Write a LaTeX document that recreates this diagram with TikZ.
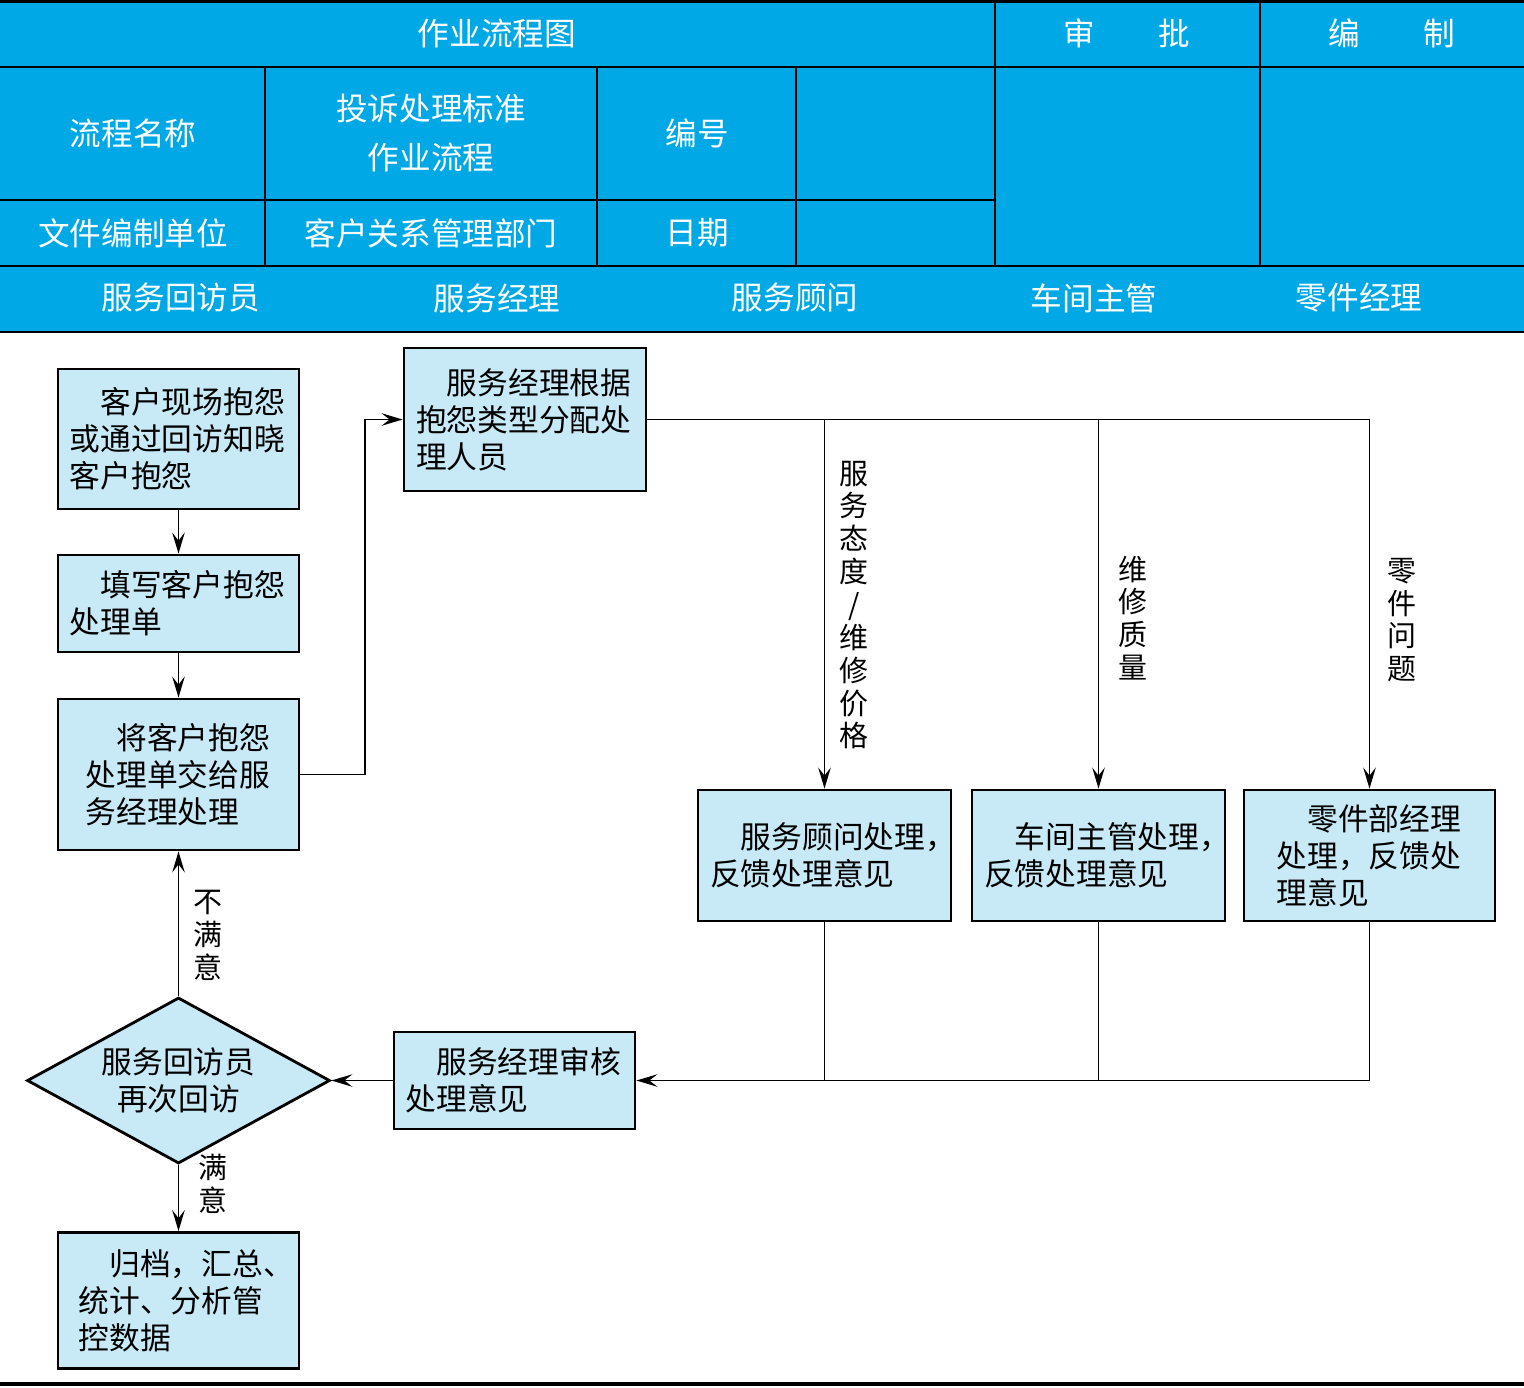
\documentclass[tikz,border=0pt]{standalone}
\usepackage{fontspec}
\setmainfont{Noto Sans CJK SC}
\usetikzlibrary{arrows.meta,shapes.geometric,calc}
\definecolor{headblue}{RGB}{0,168,230}
\definecolor{boxblue}{RGB}{200,234,247}

\begin{document}
\begin{tikzpicture}[x=0.02cm,y=-0.02cm,
  proc/.style={draw,line width=1.6pt,fill=boxblue,align=left,inner sep=0pt,
               text width=4.36cm,minimum width=4.82cm,
               font=\fontsize{17.5pt}{21pt}\selectfont},
  dec/.style={draw,diamond,aspect=1.83,line width=1.6pt,fill=boxblue,align=center,inner sep=0pt,
              minimum width=6.06cm,minimum height=3.32cm,
              font=\fontsize{17.5pt}{21pt}\selectfont},
  hd/.style={text=white,align=center,font=\fontsize{18pt}{28pt}\selectfont},
  vlab/.style={align=center,inner sep=0pt,font=\fontsize{16.5pt}{18.7pt}\selectfont},
  arr/.style={-{Stealth[length=4.2mm,width=2.5mm,inset=1.6mm]},line width=1.1pt},
  tline/.style={line width=0.75pt}]
  \useasboundingbox (0,0) rectangle (1524,1387);

  % header table
  \fill[headblue] (0,0) rectangle (1524,332);
  \draw[tline] (0,67) -- (1524,67);
  \draw[tline] (0,200) -- (995,200);
  \foreach \x in {995,1260} \draw[tline] (\x,0) -- (\x,266);
  \foreach \x in {265,597,796} \draw[tline] (\x,67) -- (\x,266);
  \draw[line width=1.8pt] (0,1.5) -- (1524,1.5);
  \draw[line width=1.4pt] (0,266) -- (1524,266);
  \draw[line width=1.6pt] (0,332) -- (1524,332);

  \node[hd] (title) at (497,33) {作业流程图};
  \node[hd] (appr) at (1127,33) {审\hspace{2em}批};
  \node[hd] (edit) at (1392,33) {编\hspace{2em}制};
  \node[hd] (pname) at (133,133) {流程名称};
  \node[hd] (pval) at (431,133) {投诉处理标准\\作业流程};
  \node[hd] (pno) at (697,133) {编号};
  \node[hd] (unit) at (133,233) {文件编制单位};
  \node[hd] (uval) at (431,233) {客户关系管理部门};
  \node[hd] (pdate) at (697,233) {日期};
  \foreach \x/\t [count=\i] in {181/服务回访员,497/服务经理,795/服务顾问,1094/车间主管,1359/零件经理}
    \node[hd] (lane\i) at (\x,298) {\t};

  % flow
  \node[proc,minimum height=2.8cm] (b1) at (178.5,439) {\hspace*{1em}客户现场抱怨\\或通过回访知晓\\客户抱怨};
  \node[proc,minimum height=1.94cm] (b2) at (178.5,603.5) {\hspace*{1em}填写客户抱怨\\处理单};
  \node[proc,minimum height=3.02cm,text width=3.72cm] (b3) at (178.5,774.5) {\hspace*{1em}将客户抱怨\\处理单交给服\\务经理处理};
  \node[proc,minimum height=2.86cm,minimum width=4.84cm] (b4) at (525,419.5) {\hspace*{1em}服务经理根据\\抱怨类型分配处\\理人员};
  \node[proc,minimum height=2.62cm,minimum width=5.06cm,text width=4.58cm] (b5) at (824.5,855.5) {\hspace*{1em}服务顾问处理，\\反馈处理意见};
  \node[proc,minimum height=2.62cm,minimum width=5.06cm,text width=4.58cm] (b6) at (1098.5,855.5) {\hspace*{1em}车间主管处理，\\反馈处理意见};
  \node[proc,minimum height=2.62cm,minimum width=5.02cm,text width=3.72cm] (b7) at (1369.5,855.5) {\hspace*{1em}零件部经理\\处理，反馈处\\理意见};
  \node[proc,minimum height=1.94cm] (b8) at (514.5,1080.5) {\hspace*{1em}服务经理审核\\处理意见};
  \node[dec] (d1) at (178.5,1080.5) {服务回访员\\再次回访};
  \node[proc,minimum height=2.72cm,text width=4cm] (b9) at (178.5,1300.5) {\hspace*{1em}归档，汇总、\\统计、分析管\\控数据};

  \node[vlab] (nsat) at (208,935) {不\\满\\意};
  \node[vlab] (sat) at (213,1184) {满\\意};
  \node[vlab] (why1) at (854,605) {服\\务\\态\\度\\/\\维\\修\\价\\格};
  \node[vlab] (why2) at (1133,618) {维\\修\\质\\量};
  \node[vlab] (why3) at (1402,620) {零\\件\\问\\题};

  \draw[arr] (b1) -- (b2);
  \draw[arr] (b2) -- (b3);
  \draw[arr] (b3.east) -- ++(65,0) |- (b4.west);
  \draw[line width=1.1pt] (b4.east) -- (b7.north |- b4.east);
  \foreach \n in {b5,b6,b7} \draw[arr] (\n.north |- b4.east) -- (\n.north);
  \foreach \n in {b5,b6,b7} \draw[tline] (\n.south) -- (\n.south |- b8.east);
  \draw[arr] (b7.south |- b8.east) -- (b8.east);
  \draw[arr] (b8.west) -- (d1.east);
  \draw[arr] (d1) -- (b3);
  \draw[arr] (d1) -- (b9);

  \draw[line width=1.8pt] (0,1384) -- (1524,1384);
\end{tikzpicture}
\end{document}
